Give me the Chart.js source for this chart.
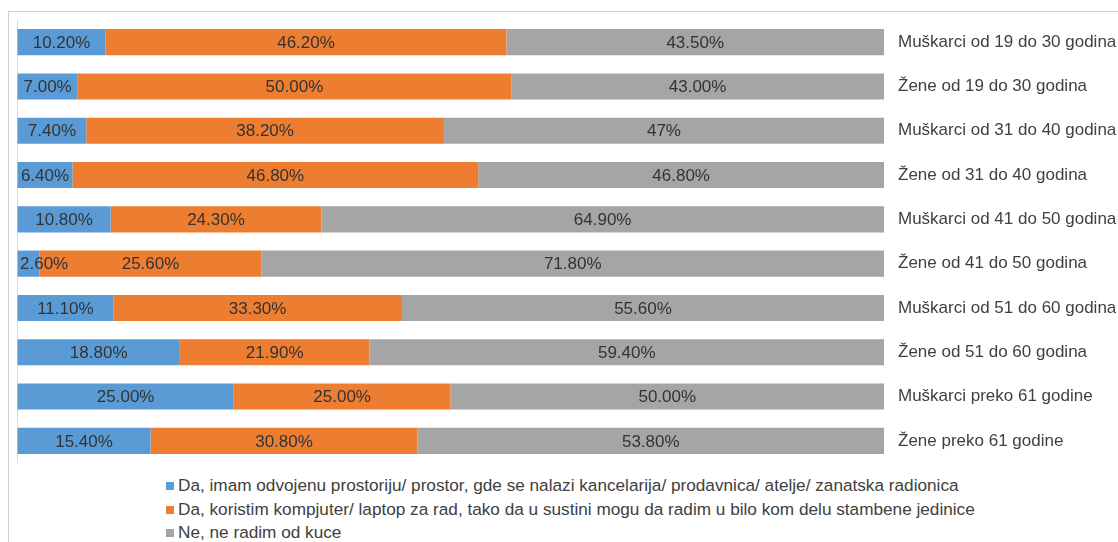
<!DOCTYPE html>
<html>
<head>
<meta charset="utf-8">
<script src="https://cdn.jsdelivr.net/npm/chart.js@4/dist/chart.umd.min.js"></script>
<style>
  html, body { margin: 0; padding: 0; background: #fff; overflow: hidden; }
  body { width: 1118px; height: 542px; position: relative; font-family: "Liberation Sans", Arial, sans-serif; }
  #okvir { position: absolute; left: 8px; top: 11px; width: 1200px; height: 600px;
           border-top: 1px solid #d0d0d0; border-left: 1px solid #d0d0d0; }
  #grafik { position: absolute; left: 0; top: 0; }
  #legenda { position: absolute; left: 166px; top: 474px; font-size: 17.2px; color: #404040; }
  #legenda div { height: 23.5px; line-height: 23.5px; white-space: nowrap; }
  #legenda span { display: inline-block; width: 8px; height: 8px; margin-right: 4px; vertical-align: 1px; }
</style>
</head>
<body>
<div id="okvir"></div>
<canvas id="grafik" width="1118" height="470"></canvas>
<div id="legenda"></div>
<script>
// grupe ispitanika
const kategorije = [
  'Muškarci od 19 do 30 godina', 'Žene od 19 do 30 godina',
  'Muškarci od 31 do 40 godina', 'Žene od 31 do 40 godina',
  'Muškarci od 41 do 50 godina', 'Žene od 41 do 50 godina',
  'Muškarci od 51 do 60 godina', 'Žene od 51 do 60 godina',
  'Muškarci preko 61 godine', 'Žene preko 61 godine'
];

// odgovori u procentima (tekst kako se ispisuje na traci)
const odvojenProstor = ['10.20', '7.00', '7.40', '6.40', '10.80', '2.60', '11.10', '18.80', '25.00', '15.40'];
const kompjuter = ['46.20', '50.00', '38.20', '46.80', '24.30', '25.60', '33.30', '21.90', '25.00', '30.80'];
const neRadim = ['43.50', '43.00', '47', '46.80', '64.90', '71.80', '55.60', '59.40', '50.00', '53.80'];

const odgovori = [
  'Da, imam odvojenu prostoriju/ prostor, gde se nalazi kancelarija/ prodavnica/ atelje/ zanatska radionica',
  'Da, koristim kompjuter/ laptop za rad, tako da u sustini mogu da radim u bilo kom delu stambene jedinice',
  'Ne, ne radim od kuce'
];
const boje = ['#5B9BD5', '#ED7D31', '#A5A5A5'];

// 100% slagano: svaka traka se skalira na zbir reda
const serije = [odvojenProstor, kompjuter, neRadim];
const zbir = kategorije.map((_, i) => serije.reduce((s, niz) => s + Number(niz[i]), 0));
const udeo = niz => niz.map((v, i) => Number(v) / zbir[i] * 100);

const natpisi = {
  id: 'natpisi',
  afterDatasetsDraw(chart) {
    const ctx = chart.ctx;
    ctx.save();
    ctx.font = '17px "Liberation Sans", Arial, sans-serif';
    ctx.fillStyle = '#333333';
    ctx.textBaseline = 'middle';
    ctx.textAlign = 'left';
    chart.data.datasets.forEach((ds, d) => {
      chart.getDatasetMeta(d).data.forEach((bar, i) => {
        const txt = serije[d][i] + '%';
        const w = ctx.measureText(txt).width;
        let x = (bar.x + bar.base) / 2 - w / 2;
        if (x < chart.chartArea.left + 3) x = chart.chartArea.left + 3;
        ctx.fillText(txt, x, bar.y + 1);
      });
    });
    ctx.restore();
  }
};

const chart = new Chart(document.getElementById('grafik'), {
  type: 'bar',
  data: {
    labels: kategorije,
    datasets: serije.map((niz, d) => ({
      label: odgovori[d],
      data: udeo(niz),
      backgroundColor: boje[d],
      borderWidth: 0,
      categoryPercentage: 1,
      barPercentage: 0.59
    }))
  },
  options: {
    indexAxis: 'y',
    responsive: false,
    animation: false,
    devicePixelRatio: 1,
    layout: { padding: { left: 17, top: 20, bottom: 7, right: 0 } },
    plugins: { legend: { display: false }, tooltip: { enabled: false } },
    scales: {
      x: {
        stacked: true, min: 0, max: 100,
        ticks: { display: false, stepSize: 100 },
        grid: { color: c => c.tick && c.tick.value === 0 ? '#d9d9d9' : 'transparent', drawTicks: false },
        border: { display: false },
        afterFit: s => { s.height = 0; s.paddingLeft = 0; s.paddingRight = 0; }
      },
      y: {
        stacked: true,
        position: 'right',
        grid: { display: false, drawTicks: false },
        border: { display: false },
        ticks: { color: '#404040', font: { size: 17, family: '"Liberation Sans", Arial, sans-serif' }, padding: 14 },
        afterFit: s => { s.width = 1118 - 884; s.paddingTop = 0; s.paddingBottom = 0; }
      }
    }
  },
  plugins: [natpisi]
});

// legenda ispod grafika, jedna stavka po redu
const leg = document.getElementById('legenda');
chart.data.datasets.forEach(ds => {
  const red = document.createElement('div');
  const kv = document.createElement('span');
  kv.style.background = ds.backgroundColor;
  red.appendChild(kv);
  red.appendChild(document.createTextNode(ds.label));
  leg.appendChild(red);
});
</script>
</body>
</html>
